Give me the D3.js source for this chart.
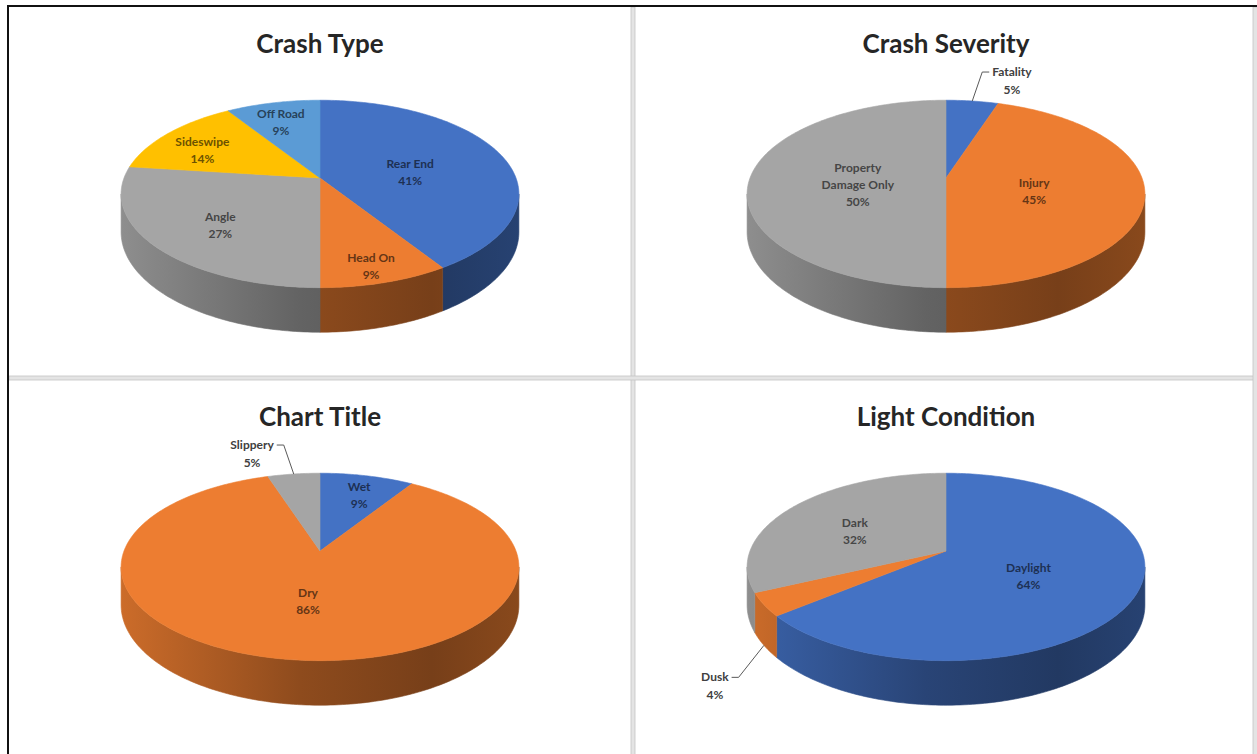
<!DOCTYPE html>
<html>
<head>
<meta charset="utf-8">
<script src="https://cdn.jsdelivr.net/npm/d3@7"></script>
<style>
  body { margin: 0; background: #fff; }
  svg { display: block; }
  text { font-family: Lato, "Open Sans", sans-serif; }
</style>
</head>
<body>
<svg id="chart"></svg>
<script>
// values
var crashTypeNames  = ["Rear End", "Head On", "Angle", "Sideswipe", "Off Road"];
var crashTypeValues = [41, 9, 27, 14, 9];
var crashTypeColors = ["#4472C4", "#ED7D31", "#A5A5A5", "#FFC000", "#5B9BD5"];

var severityNames  = ["Fatality", "Injury", "Property Damage Only"];
var severityValues = [5, 45, 50];
var severityColors = ["#4472C4", "#ED7D31", "#A5A5A5"];

var surfaceNames  = ["Wet", "Dry", "Slippery"];
var surfaceValues = [9, 86, 5];
var surfaceColors = ["#4472C4", "#ED7D31", "#A5A5A5"];

var lightNames  = ["Daylight", "Dusk", "Dark"];
var lightValues = [64, 4, 32];
var lightColors = ["#4472C4", "#ED7D31", "#A5A5A5"];

var titles = ["Crash Type", "Crash Severity", "Chart Title", "Light Condition"];

var width = 1257, height = 754;
var cellW = 620, cellH = 368;
var cells = [{x: 10, y: 8}, {x: 636, y: 8}, {x: 10, y: 381}, {x: 636, y: 381}];

// perspective: A,B = half axes, P = perspective strength, T = thickness
var A = 196, B = 91, P = 0.17, T = 37;

var svg = d3.select("#chart").attr("width", width).attr("height", height);
var defs = svg.append("defs");

// frame like the Word table the charts sit in
svg.append("rect").attr("width", width).attr("height", height).attr("fill", "#fff");
svg.append("rect").attr("x", 631).attr("y", 7).attr("width", 4).attr("height", height)
  .attr("fill", "#e4e4e4").attr("stroke", "#c4c4c4").attr("stroke-width", 0.8);
svg.append("rect").attr("x", 9).attr("y", 376).attr("width", width).attr("height", 4)
  .attr("fill", "#e4e4e4").attr("stroke", "#c4c4c4").attr("stroke-width", 0.8);
svg.append("rect").attr("x", 1253).attr("y", 7).attr("width", 6).attr("height", height)
  .attr("fill", "#e4e4e4").attr("stroke", "#c4c4c4").attr("stroke-width", 0.8);
svg.append("line").attr("x1", 7).attr("x2", width).attr("y1", 6).attr("y2", 6)
  .attr("stroke", "#111").attr("stroke-width", 2);
svg.append("line").attr("x1", 8).attr("x2", 8).attr("y1", 5).attr("y2", height)
  .attr("stroke", "#111").attr("stroke-width", 2);

var pct = d3.format(".0%");
var line = d3.line();

function project(cx, cy, x, z, depth) {
  var w = 1 - P * z;
  return [cx + A * x / w, cy + (B * z + depth) / w];
}

function rim(cx, cy, a0, a1, r, depth) {
  var n = Math.max(2, Math.ceil((a1 - a0) / (Math.PI / 180)));
  var pts = [];
  for (var i = 0; i <= n; i++) {
    var a = a0 + (a1 - a0) * i / n;
    pts.push(project(cx, cy, r * Math.sin(a), -r * Math.cos(a), depth));
  }
  return pts;
}

function drawPie(k, names, values, colors) {
  var cell = cells[k];
  var cx = cell.x + cellW / 2, cy = cell.y + 170;
  var g = svg.append("g");
  var total = d3.sum(values);
  var arcs = d3.pie().sort(null).value(function(d) { return d; })(values);

  g.append("text")
    .attr("x", cx).attr("y", cell.y + 45)
    .attr("text-anchor", "middle")
    .attr("font-size", 26).attr("font-weight", "bold")
    .attr("fill", "#262626")
    .text(titles[k]);

  // side shading, light on the left and dark on the right
  colors.forEach(function(c, i) {
    var base = d3.rgb(c);
    var grad = defs.append("linearGradient")
      .attr("id", "side" + k + "_" + i)
      .attr("gradientUnits", "userSpaceOnUse")
      .attr("x1", cx - 200).attr("x2", cx + 200).attr("y1", 0).attr("y2", 0);
    [[0, 0.86], [0.45, 0.6], [0.78, 0.5], [1, 0.58]].forEach(function(s) {
      var col = d3.rgb(base.r * s[1], base.g * s[1], base.b * s[1]);
      grad.append("stop").attr("offset", s[0]).attr("stop-color", col.formatHex());
    });
  });

  var vis0 = Math.PI / 2 + Math.asin(P), vis1 = 3 * Math.PI / 2 - Math.asin(P);

  arcs.forEach(function(d, i) {
    var s = Math.max(d.startAngle, vis0), e = Math.min(d.endAngle, vis1);
    if (e <= s) return;
    var pts = rim(cx, cy, s, e, 1, 0).concat(rim(cx, cy, s, e, 1, T).reverse());
    g.append("path")
      .attr("d", line(pts) + "Z")
      .attr("fill", "url(#side" + k + "_" + i + ")")
      .attr("stroke", "url(#side" + k + "_" + i + ")")
      .attr("stroke-width", 0.6);
  });

  arcs.forEach(function(d, i) {
    var pts = [project(cx, cy, 0, 0, 0)].concat(rim(cx, cy, d.startAngle, d.endAngle, 1, 0));
    g.append("path")
      .attr("d", line(pts) + "Z")
      .attr("fill", colors[i])
      .attr("stroke", colors[i])
      .attr("stroke-width", 0.6);
  });

  arcs.forEach(function(d, i) {
    var share = values[i] / total;
    var mid = (d.startAngle + d.endAngle) / 2;
    var name = names[i];
    var lines = name.length > 12 ? [name.split(" ")[0], name.split(" ").slice(1).join(" ")] : [name];
    lines.push(pct(share));

    if (share > 0.05) {
      var r = Math.max(0.45, 0.9 - share);
      var p = project(cx, cy, r * Math.sin(mid), -r * Math.cos(mid), 0);
      var dark = d3.rgb(colors[i]).darker(2.4);
      var t = g.append("text")
        .attr("text-anchor", "middle")
        .attr("font-size", 12).attr("font-weight", "bold")
        .attr("fill", dark.formatHex());
      lines.forEach(function(l, j) {
        t.append("tspan").attr("x", p[0])
          .attr("y", p[1] + 11 - (lines.length - 1) * 8.5 + j * 17)
          .text(l);
      });
    } else {
      // outside label with a leader line
      var zc = -Math.cos(mid);
      var anchor = project(cx, cy, Math.sin(mid), zc, zc < 0 ? 0 : T);
      var sx = Math.sin(mid) < 0 ? -1 : 1;
      var dx = sx * Math.max(10, Math.abs(30 * Math.sin(mid)));
      var dy = zc < 0 ? -29 : 32;
      var elbow = [anchor[0] + dx, anchor[1] + dy];
      var tick = [elbow[0] + sx * 7, elbow[1]];
      g.append("path")
        .attr("d", line([anchor, elbow, tick]))
        .attr("fill", "none").attr("stroke", "#595959").attr("stroke-width", 1);
      var t1 = g.append("text")
        .attr("font-size", 12).attr("font-weight", "bold").attr("fill", "#404040")
        .attr("x", tick[0] + sx * 3).attr("y", elbow[1] + 4)
        .attr("text-anchor", sx > 0 ? "start" : "end")
        .text(lines[0]);
      var tw = t1.node().getComputedTextLength();
      g.append("text")
        .attr("font-size", 12).attr("font-weight", "bold").attr("fill", "#404040")
        .attr("x", tick[0] + sx * (3 + tw / 2)).attr("y", elbow[1] + 22)
        .attr("text-anchor", "middle")
        .text(lines[1]);
    }
  });
}

drawPie(0, crashTypeNames, crashTypeValues, crashTypeColors);
drawPie(1, severityNames, severityValues, severityColors);
drawPie(2, surfaceNames, surfaceValues, surfaceColors);
drawPie(3, lightNames, lightValues, lightColors);
</script>
</body>
</html>
